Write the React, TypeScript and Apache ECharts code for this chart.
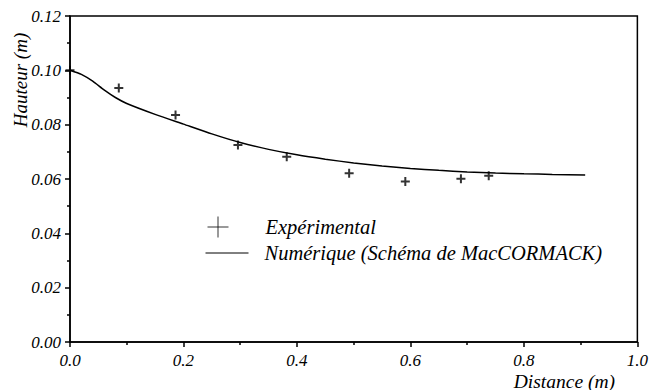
import React, { useEffect, useRef } from "react";
import * as echarts from "echarts";

const expX = [0.0, 0.086, 0.186, 0.296, 0.382, 0.492, 0.591, 0.689, 0.738];
const expY = [0.1, 0.0935, 0.0836, 0.0725, 0.0682, 0.0621, 0.0591, 0.0601, 0.0612];

const numX = [0, 0.02, 0.04, 0.06, 0.08, 0.1, 0.15, 0.2, 0.25, 0.3, 0.35, 0.4, 0.45, 0.5, 0.55, 0.6, 0.65, 0.7, 0.75, 0.8, 0.85, 0.908];
const numY = [0.1, 0.0985, 0.096, 0.0928, 0.09, 0.0878, 0.0838, 0.0802, 0.0766, 0.0734, 0.0709, 0.0689, 0.0673, 0.0659, 0.0648, 0.0639, 0.0632, 0.0626, 0.0622, 0.0619, 0.0617, 0.0615];

const expName = "Expérimental";
const numName = "Numérique (Schéma de MacCORMACK)";
const yTitle = "Hauteur (m)";
const xTitle = "Distance (m)";

const FONT = "Liberation Serif";

export default function App() {
  const ref = useRef<HTMLDivElement>(null);
  useEffect(() => {
    if (!ref.current) return;
    const chart = echarts.init(ref.current, undefined, { renderer: "svg" });
    const tick = { fontFamily: FONT, fontStyle: "italic", fontSize: 17, color: "#000" };
    chart.setOption({
      animation: false,
      backgroundColor: "#fff",
      grid: { left: 70, top: 16, right: 12, bottom: 48, show: true, borderColor: "#000", borderWidth: 1.5, backgroundColor: "transparent" },
      xAxis: {
        type: "value",
        min: 0,
        max: 1,
        interval: 0.2,
        axisLine: { lineStyle: { color: "#000", width: 1.5 } },
        axisTick: { show: true, length: 5, lineStyle: { color: "#000", width: 1.5 } },
        minorTick: { show: true, splitNumber: 2, length: 3, lineStyle: { color: "#000", width: 1.5 } },
        splitLine: { show: false },
        axisLabel: { ...tick, margin: 10, formatter: (v: number) => v.toFixed(1) },
      },
      yAxis: {
        type: "value",
        min: 0,
        max: 0.12,
        interval: 0.02,
        axisLine: { lineStyle: { color: "#000", width: 1.5 } },
        axisTick: { show: true, length: 5, lineStyle: { color: "#000", width: 1.5 } },
        minorTick: { show: true, splitNumber: 2, length: 3, lineStyle: { color: "#000", width: 1.5 } },
        splitLine: { show: false },
        axisLabel: { ...tick, margin: 9, formatter: (v: number) => v.toFixed(2) },
      },
      legend: [
        {
          data: [expName],
          left: 205,
          top: 214,
          padding: 0,
          itemWidth: 21,
          itemHeight: 21,
          itemStyle: { borderWidth: 1, color: "none", borderColor: "#000" },
          textStyle: { fontFamily: FONT, fontStyle: "italic", fontSize: 20.5, color: "#000", padding: [0, 0, 0, 32] },
        },
        {
          data: [numName],
          left: 205,
          top: 243,
          padding: 0,
          itemWidth: 43,
          itemHeight: 20,
          itemStyle: { opacity: 0 },
          lineStyle: { width: 1, color: "#000" },
          textStyle: { fontFamily: FONT, fontStyle: "italic", fontSize: 20.5, color: "#000", padding: [0, 0, 0, 11] },
        },
      ],
      graphic: [
        {
          type: "text",
          x: 20,
          y: 80,
          rotation: Math.PI / 2,
          style: { text: yTitle, fontFamily: FONT, fontStyle: "italic", fontSize: 19, fill: "#000", textAlign: "center", textVerticalAlign: "middle" },
        },
        {
          type: "text",
          x: 615,
          y: 381,
          style: { text: xTitle, fontFamily: FONT, fontStyle: "italic", fontSize: 19.5, fill: "#000", textAlign: "right", textVerticalAlign: "middle" },
        },
      ],
      series: [
        {
          name: expName,
          type: "scatter",
          data: expX.map((x, i) => [x, expY[i]]),
          symbol: "path://M0,5L10,5M5,0L5,10",
          symbolSize: 9,
          itemStyle: { color: "none", borderColor: "#000", borderWidth: 2 },
          z: 3,
        },
        {
          name: numName,
          type: "line",
          data: numX.map((x, i) => [x, numY[i]]),
          symbol: "none",
          smooth: 0.2,
          lineStyle: { color: "#000", width: 1.5 },
          itemStyle: { color: "#000" },
          z: 2,
        },
      ],
    });
    return () => chart.dispose();
  }, []);
  return <div ref={ref} style={{ position: "fixed", left: 0, top: 0, width: 651, height: 390 }} />;
}
